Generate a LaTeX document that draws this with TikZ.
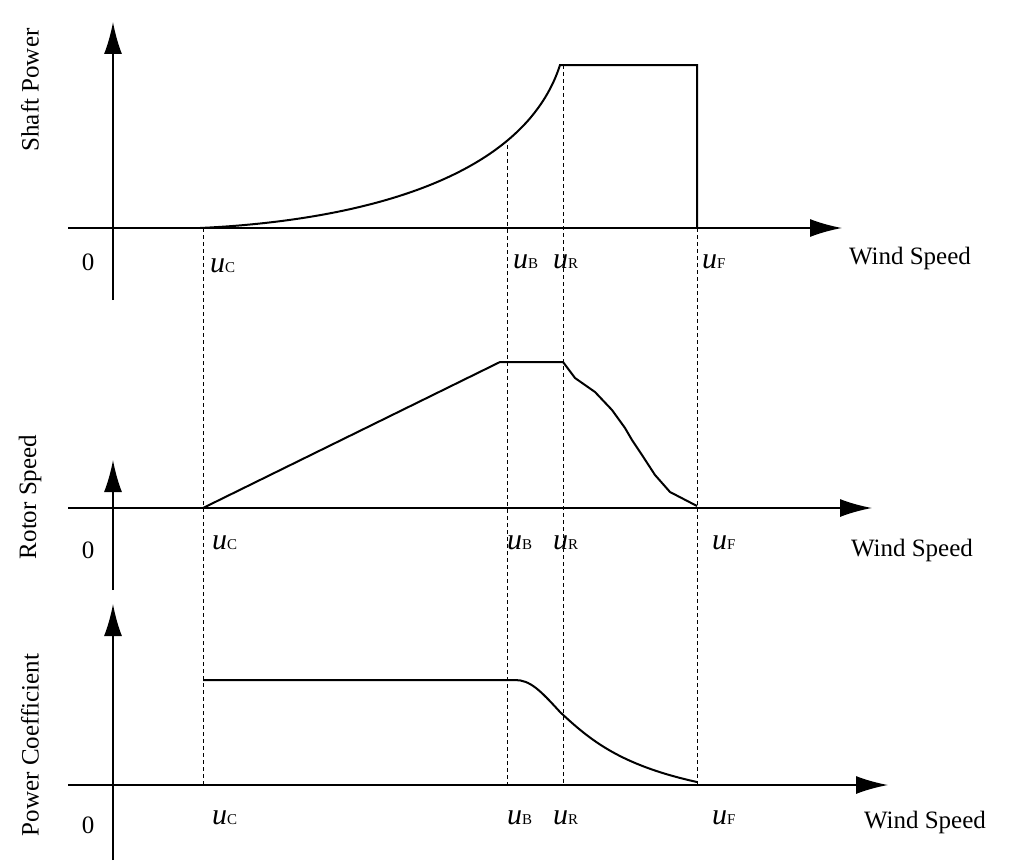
\documentclass[tikz,border=0pt]{standalone}
\usepackage{fontspec}
\setmainfont{Liberation Serif}
\usetikzlibrary{arrows.meta}
\begin{document}
\begin{tikzpicture}[x=1pt,y=-1pt,
  ax/.style={line width=1.8pt,-{Latex[length=32pt,width=18pt]}},
  cv/.style={line width=2pt},
  dsh/.style={dashed,line width=1pt,dash pattern=on 4pt off 3pt},
  lab/.style={font=\fontsize{25}{28}\selectfont,inner sep=0pt},
  ulab/.style={font=\fontsize{30}{30}\selectfont,inner sep=0pt,anchor=west}]
\useasboundingbox (0,0) rectangle (1024,867);
\newcommand{\ul}[1]{\textit{u}{\fontsize{15}{15}\selectfont #1}}
% panel 1
\coordinate (y1s) at (113,300); \coordinate (y1e) at (113,22);
\coordinate (x1s) at (68,228); \coordinate (x1e) at (842,228);
\draw[ax] (y1s) -- (y1e); \draw[ax] (x1s) -- (x1e);
\draw[cv] (200,228) .. controls (330,222) and (520,190) .. (560,65) -- (697,65) -- (697,228);
\node[lab,rotate=90] (t1) at (30,90) {Shaft Power};
\node[lab] (z1) at (88,262) {0};
\node[ulab] (c1) at (210,266) {\ul{C}};
\node[ulab] (b1) at (513,262) {\ul{B}};
\node[ulab] (r1) at (553,262) {\ul{R}};
\node[ulab] (f1) at (702,262) {\ul{F}};
\node[lab] (w1) at (910,258) {Wind Speed};
% panel 2
\coordinate (y2s) at (113,590); \coordinate (y2e) at (113,460);
\coordinate (x2s) at (68,508); \coordinate (x2e) at (872,508);
\draw[ax] (y2s) -- (y2e); \draw[ax] (x2s) -- (x2e);
\draw[cv] (203,508) -- (500,362) -- (563,362) -- (575,378) -- (595,392) -- (612,410) -- (625,428) -- (632,440) -- (642,455) -- (655,475) -- (670,492) -- (697,506);
\node[lab,rotate=90] (t2) at (30,497) {Rotor Speed};
\node[lab] (z2) at (88,550) {0};
\node[ulab] (c2) at (212,543) {\ul{C}};
\node[ulab] (b2) at (507,543) {\ul{B}};
\node[ulab] (r2) at (553,543) {\ul{R}};
\node[ulab] (f2) at (712,543) {\ul{F}};
\node[lab] (w2) at (912,550) {Wind Speed};
% panel 3
\coordinate (y3s) at (113,860); \coordinate (y3e) at (113,604);
\coordinate (x3s) at (68,785); \coordinate (x3e) at (888,785);
\draw[ax] (y3s) -- (y3e); \draw[ax] (x3s) -- (x3e);
\draw[cv] (203,680) -- (515,680) .. controls (530,680) and (540,690) .. (560,712) .. controls (590,740) and (620,765) .. (697,782);
\node[lab,rotate=90] (t3) at (30,745) {Power Coefficient};
\node[lab] (z3) at (88,825) {0};
\node[ulab] (c3) at (212,818) {\ul{C}};
\node[ulab] (b3) at (507,818) {\ul{B}};
\node[ulab] (r3) at (553,818) {\ul{R}};
\node[ulab] (f3) at (712,818) {\ul{F}};
\node[lab] (w3) at (925,822) {Wind Speed};
% dashed
\draw[dsh] (203,228) -- (203,785);
\draw[dsh] (507,145) -- (507,785);
\draw[dsh] (563,65) -- (563,785);
\draw[dsh] (697,228) -- (697,785);
\end{tikzpicture}
\end{document}
